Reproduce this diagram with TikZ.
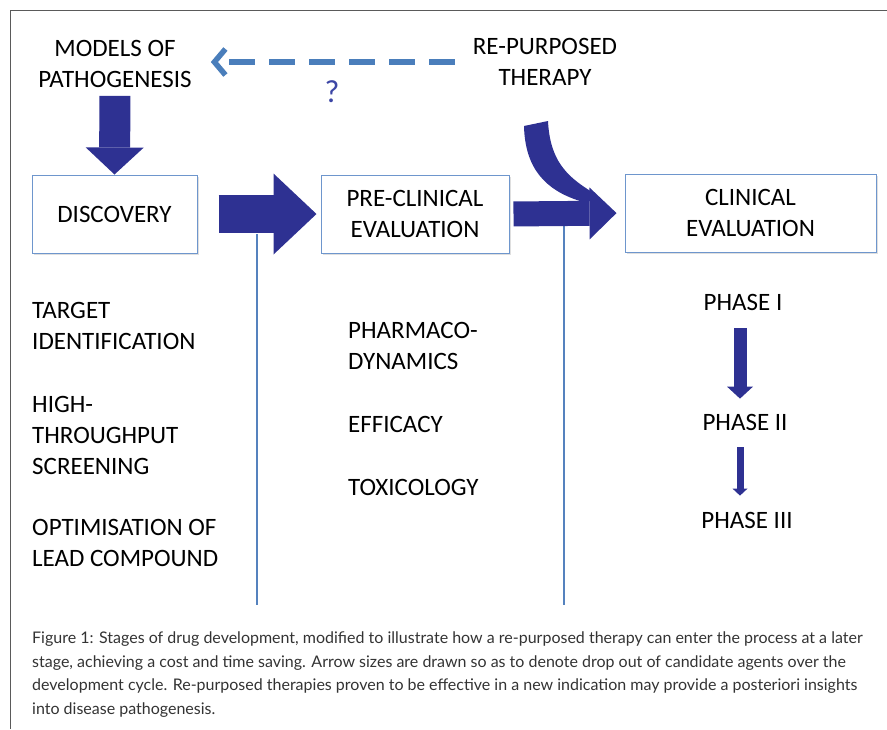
\documentclass[tikz,border=0pt]{standalone}
\usepackage{fontspec}
\setmainfont{Carlito}
\newfontfamily\capfont{Lato}
\usetikzlibrary{arrows.meta, positioning, shadows}
\definecolor{arrowblue}{RGB}{46,49,146}
\definecolor{dashblue}{RGB}{74,126,187}
\definecolor{boxblue}{RGB}{110,150,205}
\definecolor{lineblue}{RGB}{85,130,190}
\definecolor{qblue}{RGB}{60,70,165}
\definecolor{framegray}{RGB}{90,90,90}

\begin{document}
\begin{tikzpicture}[x=1pt, y=-1pt,
  lbl/.style={font=\fontsize{25}{31}\selectfont, align=center, inner sep=0pt, text=black},
  lefttxt/.style={lbl, align=left, anchor=west},
  stage/.style={lbl, draw=boxblue, line width=1pt, fill=white, minimum height=78pt,
    drop shadow={shadow xshift=1.5pt, shadow yshift=-1.5pt, opacity=0.25}},
  bigarr/.style={draw=arrowblue},
  divider/.style={draw=lineblue, line width=1.6pt}]
  \useasboundingbox (0,0) rectangle (887,729);
  \draw[framegray, line width=1pt] (887,10) -- (10,10) -- (10,729);

  \node[lbl] (models) at (115,64) {MODELS OF\\PATHOGENESIS};
  \node[lbl] (repo)   at (545,62) {RE-PURPOSED\\THERAPY};
  \node[lbl, font=\fontsize{32}{32}\selectfont, text=qblue] (query) at (332,92) {?};

  \node[stage, minimum width=165pt] (disc) at (114.5,214) {DISCOVERY};
  \node[stage, minimum width=188pt] (pre)  at (415,214)   {PRE-CLINICAL\\EVALUATION};
  \node[stage, minimum width=251pt] (clin) at (750.5,213) {CLINICAL\\EVALUATION};

  \node[lefttxt] (target) at (32,326) {TARGET\\IDENTIFICATION};
  \node[lefttxt] (hts)    at (32,435) {HIGH-\\THROUGHPUT\\SCREENING};
  \node[lefttxt] (lead)   at (32,543) {OPTIMISATION OF\\LEAD COMPOUND};
  \node[lefttxt] (pd)     at (348,346) {PHARMACO-\\DYNAMICS};
  \node[lefttxt] (eff)    at (348,424) {EFFICACY};
  \node[lefttxt] (tox)    at (348,487) {TOXICOLOGY};

  \node[lbl] (ph1) at (743,302) {PHASE I};
  \node[lbl] (ph2) at (745,422) {PHASE II};
  \node[lbl] (ph3) at (747,520) {PHASE III};

  \coordinate (cut1top) at (257,234); \coordinate (cut1bot) at (257,605);
  \coordinate (cut2top) at (564,226); \coordinate (cut2bot) at (564,605);
  \draw[divider] (cut1top) -- (cut1bot);
  \draw[divider] (cut2top) -- (cut2bot);

  \draw[dashblue, line width=5.5pt, dash pattern=on 26pt off 14pt, shorten <=18pt, shorten >=19pt,
    -{Straight Barb[length=11pt,width=26pt]}] (repo.west) -- (models.east |- repo.west);

  \draw[bigarr, line width=31pt, shorten <=8pt,
    -{Triangle[length=27pt,width=58pt,line width=0pt]}] (models.south) -- (disc.north);
  \draw[bigarr, line width=38pt, shorten <=21pt, shorten >=4pt,
    -{Triangle[length=43pt,width=81pt,line width=0pt]}] (disc.east) -- (pre.west);
  \draw[bigarr, line width=25pt, shorten <=4pt, shorten >=8pt,
    -{Triangle[length=27pt,width=52pt,line width=0pt]}] (pre.east) -- (clin.west);
  \fill[arrowblue] (524,126) .. controls (525,168) and (545,190) .. (580,201) -- (596,201)
    -- (592,192) .. controls (566,176) and (550,160) .. (548,121) -- cycle;

  \draw[bigarr, line width=13pt, shorten <=18pt, shorten >=15pt,
    -{Triangle[length=12pt,width=26pt,line width=0pt]}] ([xshift=-3pt]ph1.south) -- ([xshift=-3pt]ph1.south |- ph2.north);
  \draw[bigarr, line width=7pt, shorten <=17pt, shorten >=16pt,
    -{Triangle[length=7pt,width=15pt,line width=0pt]}] ([xshift=-5pt]ph2.south) -- ([xshift=-5pt]ph2.south |- ph3.north);

  \node[font=\capfont\fontsize{16}{23.5}\selectfont, text=black!80, align=left, anchor=north west,
    inner sep=0pt] (caption) at (32,632) {Figure 1: Stages of drug development, modified to illustrate how a re-purposed therapy can enter the process at a later\\
    stage, achieving a cost and time saving. Arrow sizes are drawn so as to denote drop out of candidate agents over the\\
    development cycle. Re-purposed therapies proven to be effective in a new indication may provide a posteriori insights\\
    into disease pathogenesis.};
\end{tikzpicture}
\end{document}
